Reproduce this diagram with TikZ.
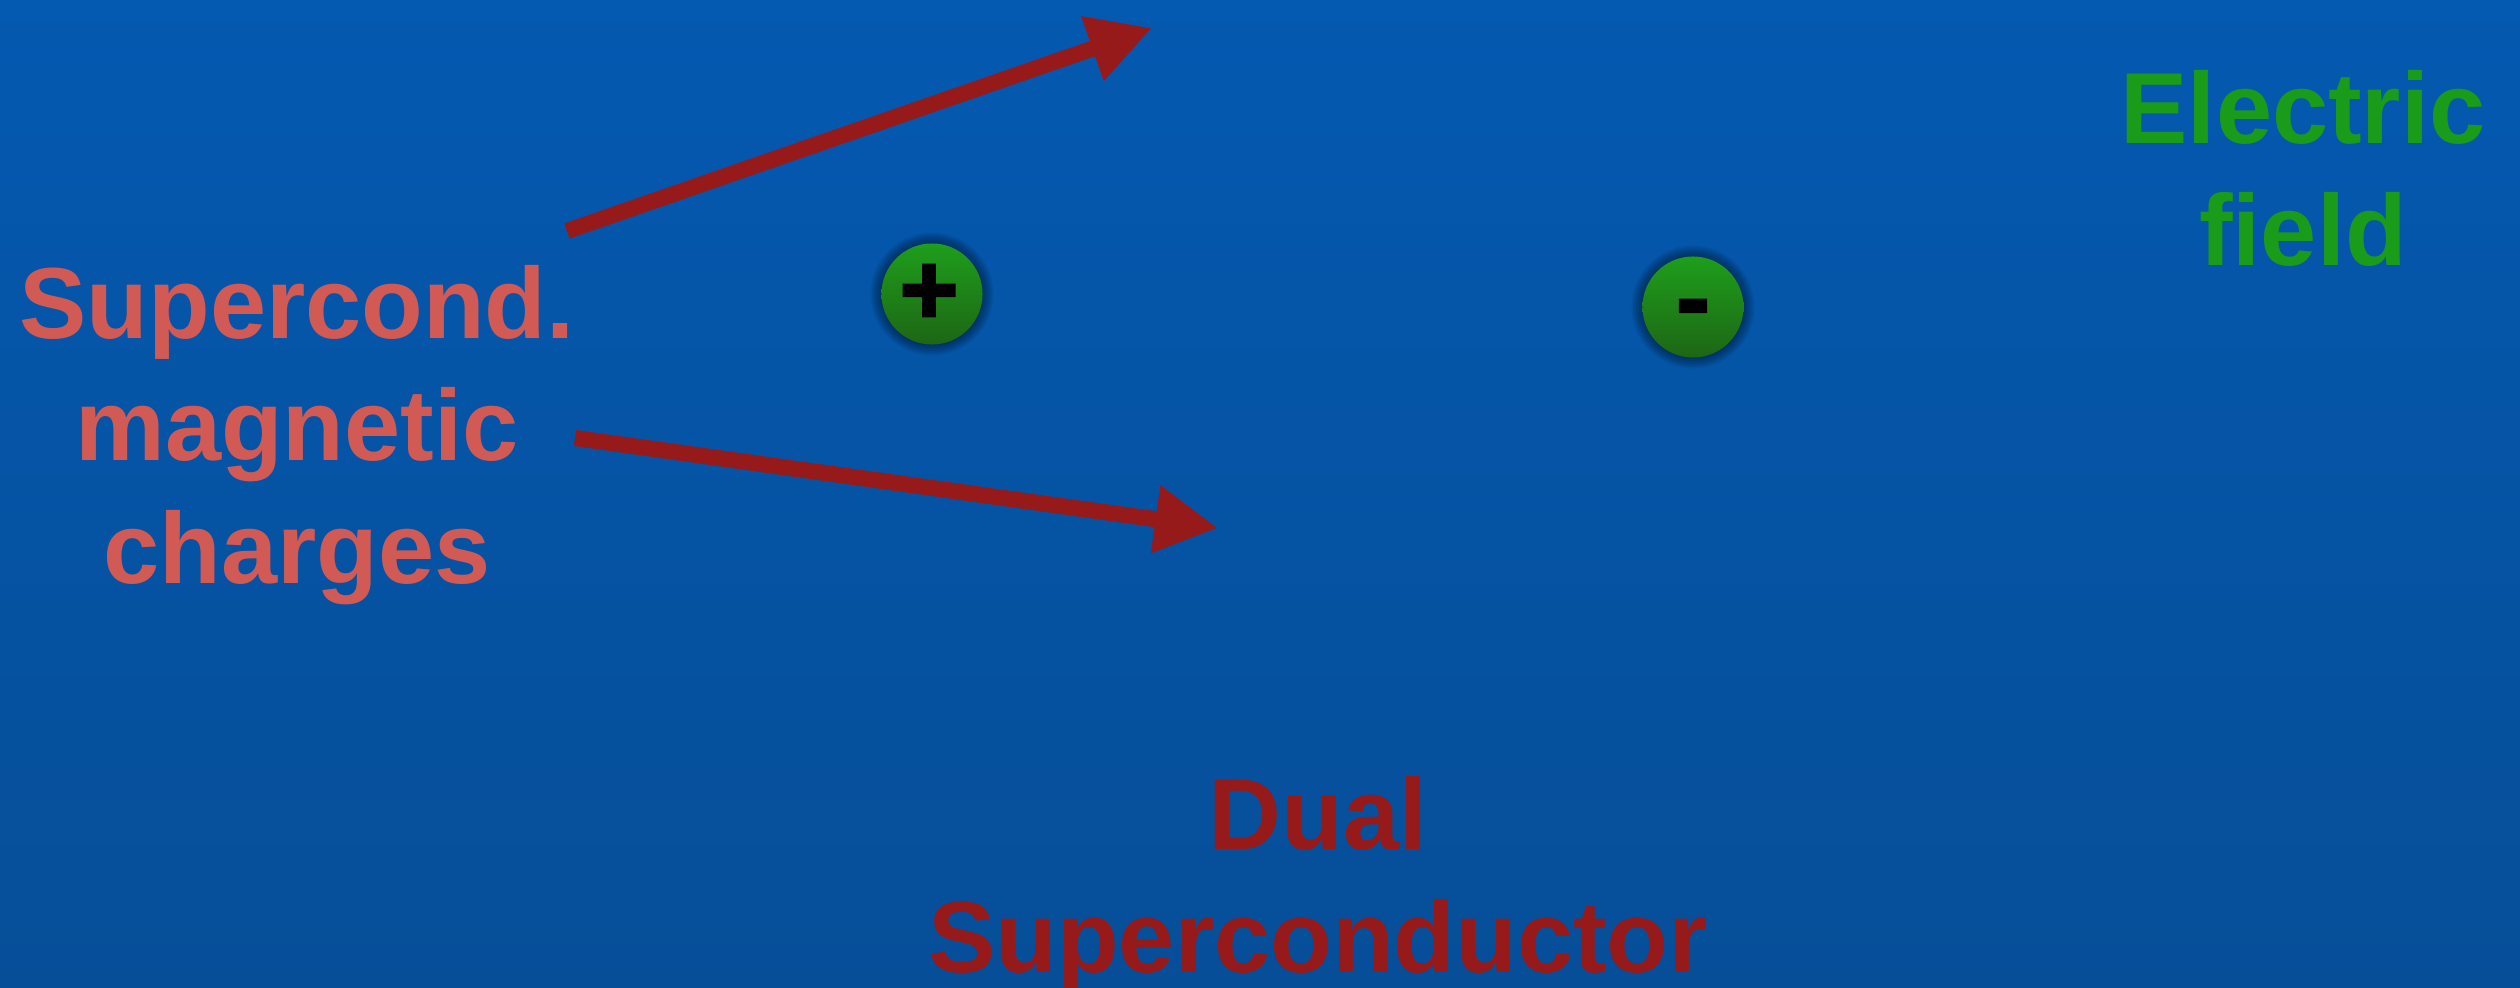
\documentclass[tikz,border=0pt]{standalone}
\usepackage{fontspec}
\setmainfont{Liberation Sans}
\newfontfamily\signfont[FakeBold=2.5]{Liberation Sans Bold}
\usetikzlibrary{arrows.meta}

\definecolor{bgtop}{RGB}{4,89,176}
\definecolor{bgbottom}{RGB}{6,78,152}
\definecolor{salmon}{RGB}{210,90,85}
\definecolor{fieldgreen}{RGB}{26,155,26}
\definecolor{darkred}{RGB}{150,26,26}
\definecolor{chargetop}{RGB}{30,158,28}
\definecolor{chargebottom}{RGB}{30,102,20}

\tikzset{
  bigtext/.style={font=\bfseries\fontsize{28.7pt}{34.7pt}\selectfont, align=center, inner sep=0pt},
  pointer/.style={draw=darkred, line width=0.16cm,
    -{Triangle[length=0.63cm, width=0.64cm]}},
  chargeball/.style={circle, minimum size=1.01cm, inner sep=0pt,
    top color=chargetop, bottom color=chargebottom},
  chargesign/.style={text=black, inner sep=0pt, anchor=base,
    font=\signfont\fontsize{28.7pt}{34.7pt}\selectfont},
}

\begin{document}
\begin{tikzpicture}[x=0.01cm, y=-0.01cm]
  % background
  \shade[top color=bgtop, bottom color=bgbottom] (0,0) rectangle (2520,988);
  \useasboundingbox (0,0) rectangle (2520,988);

  % soft dark halo around the two charges
  \foreach \cx/\cy in {932/294, 1693/307} {
    \foreach \r in {51,52.5,...,62} {
      \fill[black, opacity=0.06] (\cx,\cy) circle[radius=\r];
    }
  }

  % charges
  \node[chargeball] (plus) at (932,294) {};
  \node[chargeball] (minus) at (1693,307) {};
  \node[chargesign] (plussign) at (929,324) {+};
  \node[chargesign] (minussign) at (1693,332) {-};

  % labels (anchored at the baseline of their last line)
  \node[bigtext, text=salmon, anchor=base] (magn) at (297,583)
    {Supercond.\\magnetic\\charges};
  \node[bigtext, text=fieldgreen, anchor=base] (efield) at (2303,266)
    {Electric\\field};
  \node[bigtext, text=darkred, anchor=base] (dual) at (1318,972)
    {Dual\\Superconductor};

  % arrows from the magnetic charges label
  \coordinate (upstart) at (567,231);
  \coordinate (upend) at (1152,28);
  \coordinate (downstart) at (575,438);
  \coordinate (downend) at (1218,528);
  \draw[pointer] (upstart) -- (upend);
  \draw[pointer] (downstart) -- (downend);
\end{tikzpicture}
\end{document}
